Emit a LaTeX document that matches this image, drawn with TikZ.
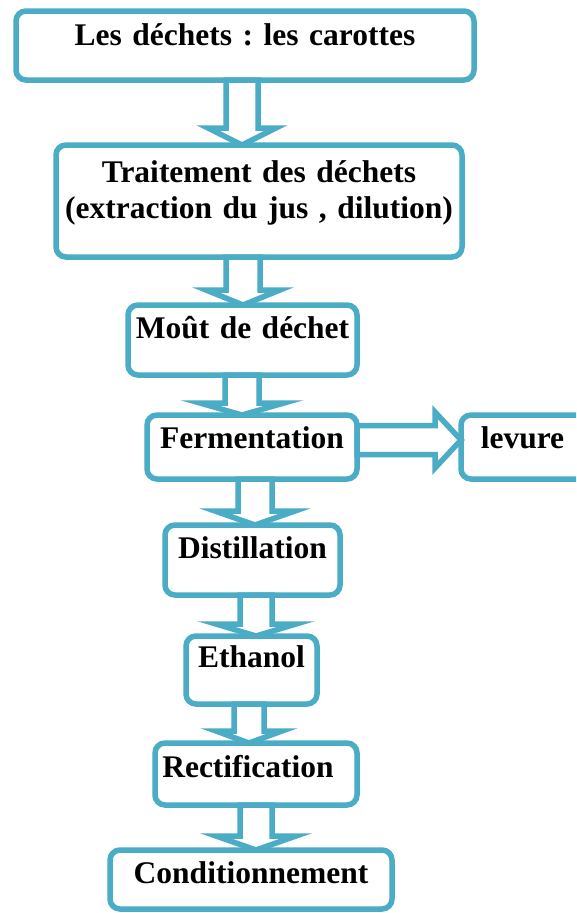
\documentclass[tikz,border=0pt]{standalone}
\usepackage{fontspec}
\setmainfont{Liberation Serif}
\usetikzlibrary{calc}
\definecolor{accent}{HTML}{4BACC6}
\frenchspacing
\tikzset{
  box/.style={draw=accent, line width=5.5pt, rounded corners=10pt, fill=white,
    inner sep=0pt, outer sep=0pt, align=center, anchor=north west,
    font=\bfseries\fontsize{31.5}{36}\selectfont},
  blockarrow/.style={draw=accent, line width=5.5pt, fill=white, line join=miter}
}
% from, to, x centre, shaft half width, wing half width, head length
\newcommand\vblockarrow[6]{%
  \draw[blockarrow] let \p1=(#1.south), \p2=(#2.north) in
    (#3-#4,\y1) -- (#3-#4,\y2+#6pt) -- (#3-#5,\y2+#6pt) -- (#3,\y2)
    -- (#3+#5,\y2+#6pt) -- (#3+#4,\y2+#6pt) -- (#3+#4,\y1) -- cycle;}
\begin{document}
\begin{tikzpicture}[x=1pt,y=-1pt]
\clip (0,0) rectangle (576,913);
\fill[white] (0,0) rectangle (576,913);
\node[box, text width=458pt, text height=34pt, text depth=35pt] (n1) at (16,11) {Les déchets : les carottes};
\node[box, text width=406pt, text height=37pt, text depth=75pt] (n2) at (56,145) {Traitement des déchets\\(extraction du jus , dilution)};
\node[box, text width=229pt, text height=33pt, text depth=37pt] (n3) at (128,305) {Moût de déchet};
\node[box, text width=210pt, text height=33pt, text depth=31pt] (n4) at (147,415) {Fermentation};
\node[box, text width=129pt, text height=33pt, text depth=31pt] (lev) at (461,415) {levure\hspace*{6pt}\mbox{}};
\node[box, text width=175pt, text height=33pt, text depth=37pt] (n5) at (165,525) {Distillation};
\node[box, text width=131pt, text height=31pt, text depth=37pt] (n6) at (186,636) {Ethanol};
\node[box, text width=202pt, text height=34pt, text depth=28pt] (n7) at (155,743) {Rectification\hspace*{16pt}\mbox{}};
\node[box, text width=282pt, text height=33pt, text depth=26pt] (n8) at (110,850) {Conditionnement};
\vblockarrow{n1}{n2}{242}{16}{34}{17}
\vblockarrow{n2}{n3}{243}{17}{37}{15}
\vblockarrow{n3}{n4}{242}{17}{42}{12}
\vblockarrow{n4}{n5}{255}{17}{40}{14}
\vblockarrow{n5}{n6}{256}{16}{40}{12}
\vblockarrow{n6}{n7}{249}{15}{33}{12}
\vblockarrow{n7}{n8}{256}{16}{40}{14}
\draw[blockarrow] let \p1=(n4.east), \p2=(lev.west) in
  (\x1,425.5) -- (\x2-26pt,425.5) -- (\x2-26pt,412) -- (\x2,440)
  -- (\x2-26pt,468) -- (\x2-26pt,454.5) -- (\x1,454.5) -- cycle;
\end{tikzpicture}
\end{document}
